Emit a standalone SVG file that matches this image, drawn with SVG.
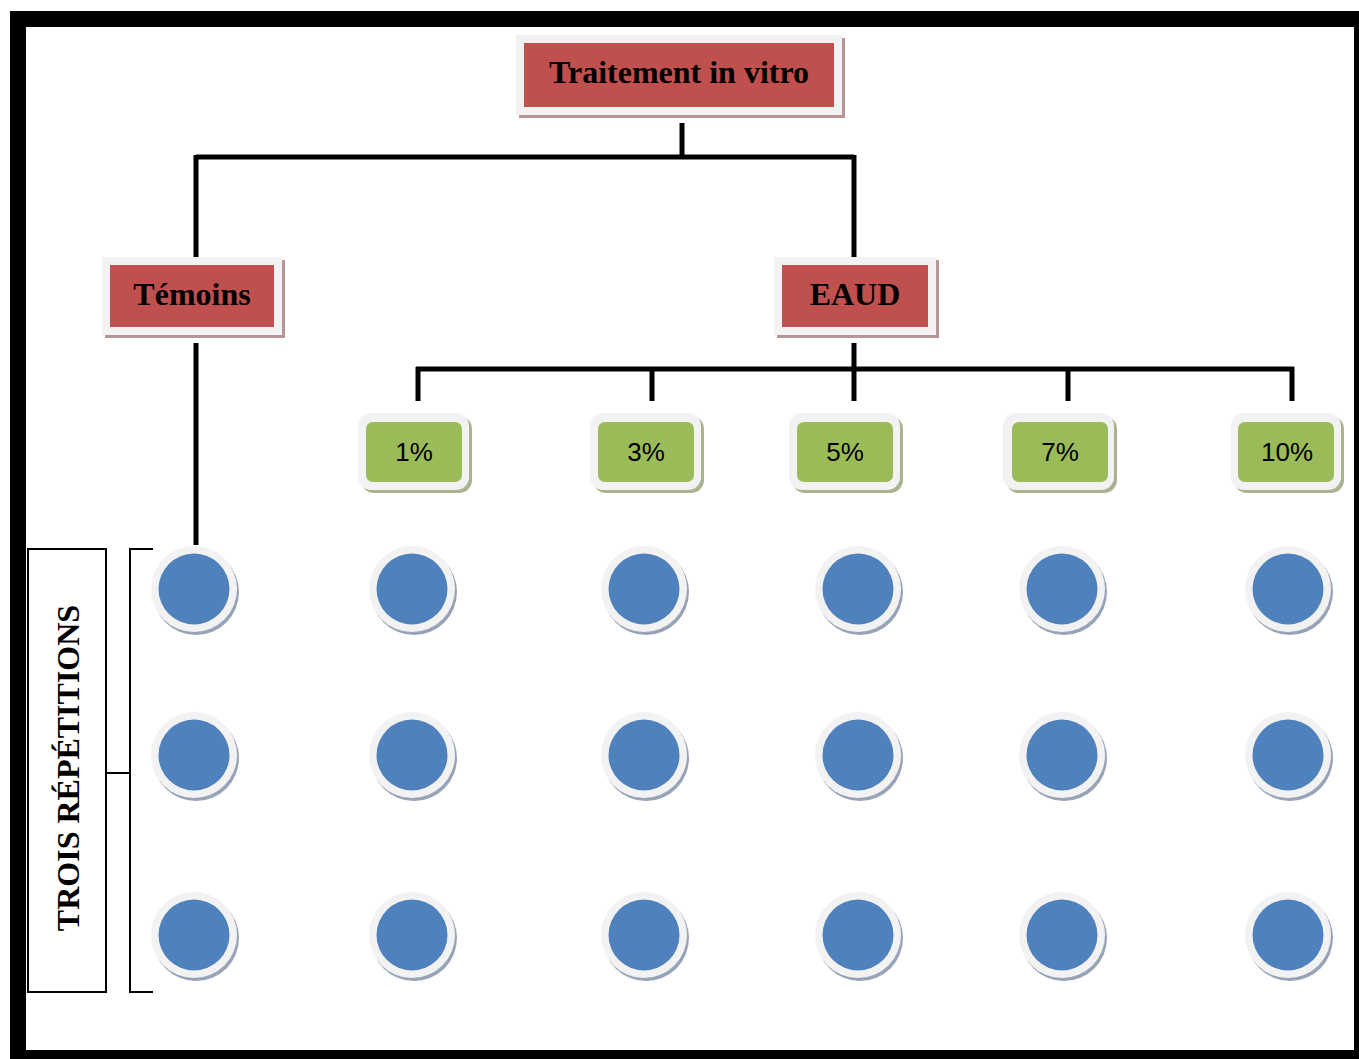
<svg xmlns="http://www.w3.org/2000/svg" width="1359" height="1059" viewBox="0 0 1359 1059">
<defs>
<style>
.frame{fill:#000}
.page{fill:#fff}
.ln{stroke:#000;stroke-width:5;fill:none;stroke-linecap:butt}
.thin{stroke:#000;stroke-width:2;fill:none}
.rshadow{fill:#b99595}
.rframe{fill:#f2f2f2}
.red{fill:#c0504d}
.gshadow{fill:#a9b38f}
.green{fill:#9bbb59}
.cshadow{fill:#97a3b6}
.blue{fill:#4f81bd}
.t1{font-family:"Liberation Serif","Times New Roman",serif;font-weight:bold;font-size:32px;fill:#000;text-anchor:middle}
.t2{font-family:"Liberation Sans",Arial,sans-serif;font-size:26px;fill:#000;text-anchor:middle}
</style>
<g id="dot">
<circle cx="2" cy="3" r="43" class="cshadow"/>
<circle cx="0" cy="0" r="43" class="rframe"/>
<circle cx="0" cy="0" r="35.5" class="blue"/>
</g>
</defs>
<rect x="10" y="11" width="1349" height="1048" class="frame"/>
<rect x="26" y="27" width="1328" height="1023" class="page"/>

<g id="connectors">
<path class="ln" d="M682,123 V157 M196,157 H854 M196,155 V258 M854,155 V262"/>
<path class="ln" d="M196,343 V545"/>
<path class="ln" d="M854,343 V401 M416,369 H1294 M418,367 V401 M652,369 V401 M1068,369 V401 M1292,367 V401"/>
<path class="thin" d="M153,549 H130 V992 H153 M106,773 H130"/>
</g>

<g id="n-traitement">
<rect x="519" y="38" width="326" height="80" class="rshadow"/>
<rect x="516" y="35" width="326" height="80" class="rframe"/>
<rect x="524" y="43" width="310" height="64" class="red"/>
<text x="679" y="83" class="t1">Traitement in vitro</text>
</g>
<g id="n-temoins">
<rect x="105" y="260" width="180" height="78" class="rshadow"/>
<rect x="102" y="257" width="180" height="78" class="rframe"/>
<rect x="110" y="265" width="164" height="62" class="red"/>
<text x="192" y="305" class="t1">Témoins</text>
</g>
<g id="n-eaud">
<rect x="777" y="260" width="162" height="78" class="rshadow"/>
<rect x="774" y="257" width="162" height="78" class="rframe"/>
<rect x="782" y="265" width="146" height="62" class="red"/>
<text x="855" y="305" class="t1">EAUD</text>
</g>

<g id="n-1">
<rect x="361" y="416" width="111" height="77" rx="13" class="gshadow"/>
<rect x="358" y="413" width="111" height="77" rx="13" class="rframe"/>
<rect x="366" y="422" width="96" height="60" rx="7" class="green"/>
<text x="414" y="461" class="t2">1%</text>
</g>
<g id="n-3">
<rect x="593" y="416" width="111" height="77" rx="13" class="gshadow"/>
<rect x="590" y="413" width="111" height="77" rx="13" class="rframe"/>
<rect x="598" y="422" width="96" height="60" rx="7" class="green"/>
<text x="646" y="461" class="t2">3%</text>
</g>
<g id="n-5">
<rect x="792" y="416" width="111" height="77" rx="13" class="gshadow"/>
<rect x="789" y="413" width="111" height="77" rx="13" class="rframe"/>
<rect x="797" y="422" width="96" height="60" rx="7" class="green"/>
<text x="845" y="461" class="t2">5%</text>
</g>
<g id="n-7">
<rect x="1006" y="416" width="111" height="77" rx="13" class="gshadow"/>
<rect x="1003" y="413" width="111" height="77" rx="13" class="rframe"/>
<rect x="1012" y="422" width="96" height="60" rx="7" class="green"/>
<text x="1060" y="461" class="t2">7%</text>
</g>
<g id="n-10">
<rect x="1234" y="416" width="110" height="77" rx="13" class="gshadow"/>
<rect x="1231" y="413" width="110" height="77" rx="13" class="rframe"/>
<rect x="1238" y="422" width="96" height="60" rx="7" class="green"/>
<text x="1287" y="461" class="t2">10%</text>
</g>

<g id="n-repetitions">
<rect x="28" y="549" width="78" height="443" fill="#fff" stroke="#000" stroke-width="2"/>
<text class="t1" transform="translate(79,768) rotate(-90)" font-size="33">TROIS RÉPÉTITIONS</text>
</g>

<g id="n-c11"><use href="#dot" x="194" y="589"/></g>
<g id="n-c12"><use href="#dot" x="412" y="589"/></g>
<g id="n-c13"><use href="#dot" x="644" y="589"/></g>
<g id="n-c14"><use href="#dot" x="858" y="589"/></g>
<g id="n-c15"><use href="#dot" x="1062" y="589"/></g>
<g id="n-c16"><use href="#dot" x="1288" y="589"/></g>
<g id="n-c21"><use href="#dot" x="194" y="755"/></g>
<g id="n-c22"><use href="#dot" x="412" y="755"/></g>
<g id="n-c23"><use href="#dot" x="644" y="755"/></g>
<g id="n-c24"><use href="#dot" x="858" y="755"/></g>
<g id="n-c25"><use href="#dot" x="1062" y="755"/></g>
<g id="n-c26"><use href="#dot" x="1288" y="755"/></g>
<g id="n-c31"><use href="#dot" x="194" y="935"/></g>
<g id="n-c32"><use href="#dot" x="412" y="935"/></g>
<g id="n-c33"><use href="#dot" x="644" y="935"/></g>
<g id="n-c34"><use href="#dot" x="858" y="935"/></g>
<g id="n-c35"><use href="#dot" x="1062" y="935"/></g>
<g id="n-c36"><use href="#dot" x="1288" y="935"/></g>
</svg>
